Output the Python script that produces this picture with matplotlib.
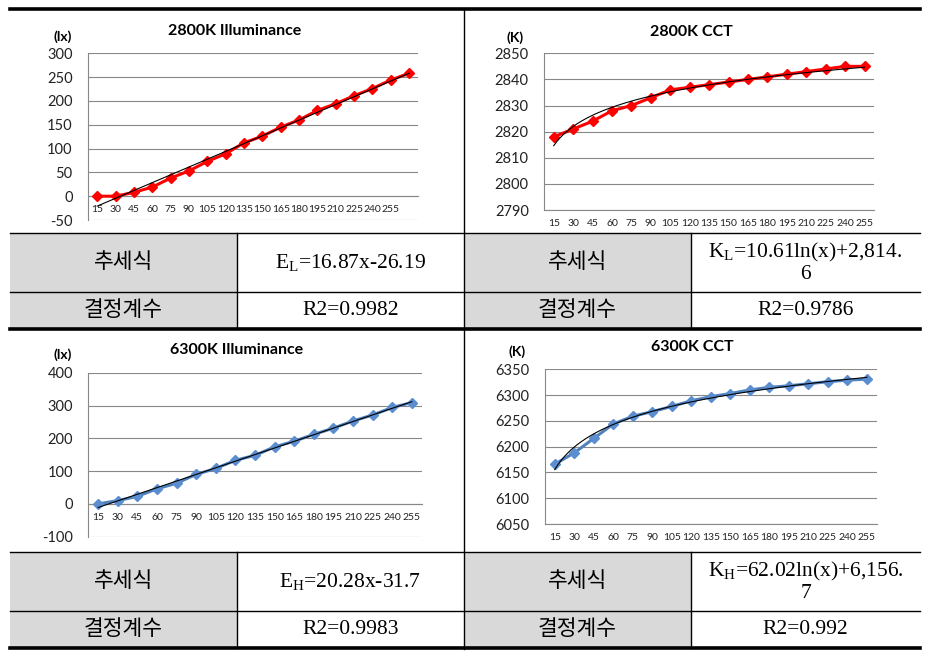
import matplotlib
matplotlib.use("Agg")
import matplotlib.pyplot as plt
import numpy as np
from matplotlib.lines import Line2D
from matplotlib.patches import Rectangle

plt.rcParams['font.family'] = ['Lato', 'DejaVu Sans']
plt.rcParams['mathtext.default'] = 'regular'
plt.rcParams['axes.unicode_minus'] = False

# data
x_labels = ['15', '30', '45', '60', '75', '90', '105', '120', '135', '150',
            '165', '180', '195', '210', '225', '240', '255']
lux_2800 = [0, 0, 8, 19, 38, 53, 73, 89, 112, 126, 145, 160, 180, 194, 211, 226, 244, 258]
cct_2800 = [2818, 2821, 2824, 2828, 2830, 2833, 2836, 2837, 2838, 2839,
            2840, 2841, 2842, 2843, 2844, 2845, 2845]
lux_6300 = [0, 10, 23, 46, 63, 90, 108, 133, 148, 174, 191, 212, 231, 253, 271, 294, 309]
cct_6300 = [6166, 6188, 6216, 6244, 6259, 6268, 6278, 6289, 6297, 6303,
            6310, 6315, 6318, 6322, 6326, 6329, 6331]

titles = ['2800K Illuminance', '2800K CCT', '6300K Illuminance', '6300K CCT']
units = ['(lx)', '(K)', '(lx)', '(K)']
row_names = ['추세식', '결정계수']
eq_top = ['E$_L$=16.87x-26.19', 'K$_L$=10.61ln(x)+2,814.\n6']
r2_top = ['R2=0.9982', 'R2=0.9786']
eq_bot = ['E$_H$=20.28x-31.7', 'K$_H$=62.02ln(x)+6,156.\n7']
r2_bot = ['R2=0.9983', 'R2=0.992']

W, H = 930, 662
fig = plt.figure(figsize=(W / 100, H / 100), dpi=100)


def fx(px):
    return px / W


def fy(py):
    return 1 - py / H


def add_ax(x0, y0, x1, y1):
    return fig.add_axes([x0 / W, 1 - y1 / H, (x1 - x0) / W, (y1 - y0) / H])


def line(x0, y0, x1, y1, lw=1.0):
    fig.add_artist(Line2D([fx(x0), fx(x1)], [fy(y0), fy(y1)], color='black', lw=lw))


def draw(ax, y, color, mcolor, ylo, yhi, step, log_fit=False, zero_axis=False):
    y = np.array(y, dtype=float)
    x = np.arange(1, len(y) + 1)
    ax.plot(x, y, color=color, lw=2.2, marker='D', ms=5, mfc=mcolor, mec=mcolor, zorder=3)
    # Excel-style trendline fitted to the plotted points
    xt = np.linspace(1, len(y), 200)
    if log_fit:
        a, b = np.polyfit(np.log(x), y, 1)
        yt = a * np.log(xt) + b
    else:
        a, b = np.polyfit(x, y, 1)
        yt = a * xt + b
    ax.plot(xt, yt, color='black', lw=0.8, zorder=4)
    ax.set_xlim(0.5, len(y) + 0.5)
    ax.set_ylim(ylo, yhi)
    ax.set_yticks(np.arange(ylo, yhi + step, step))
    labels = x_labels + [''] * (len(y) - len(x_labels))
    ax.set_xticks(x)
    ax.set_xticklabels(labels)
    ax.grid(axis='y', color='#888888', lw=0.8)
    ax.set_axisbelow(True)
    for s in ['top', 'right']:
        ax.spines[s].set_visible(False)
    for s in ['left', 'bottom']:
        ax.spines[s].set_color('#888888')
        ax.spines[s].set_linewidth(0.8)
    if zero_axis:
        ax.spines['bottom'].set_position(('data', 0))
    ax.tick_params(axis='y', length=0, pad=11, labelsize=10.5, labelcolor='#222222')
    ax.tick_params(axis='x', length=0, pad=6.5, labelsize=7.5, labelcolor='#222222')
    ax.patch.set_alpha(0)


ax1 = add_ax(88, 53.3, 418.3, 220)
draw(ax1, lux_2800, '#FF0000', '#FF0000', -50, 300, 50, zero_axis=True)
ax2 = add_ax(544, 53.3, 874.3, 210)
draw(ax2, cct_2800, '#FF0000', '#FF0000', 2790, 2850, 10, log_fit=True)
ax3 = add_ax(88.3, 372.7, 421.7, 536.7)
draw(ax3, lux_6300, '#4F81BD', '#5B8ED0', -100, 400, 100, zero_axis=True)
ax4 = add_ax(545, 369.3, 876.7, 524)
draw(ax4, cct_6300, '#4F81BD', '#5B8ED0', 6050, 6350, 50, log_fit=True)

# titles and units
title_pos = [(235, 30.7), (691.7, 32.3), (236.7, 350), (692.5, 346.7)]
unit_pos = [(62.5, 36.7), (515, 37.7), (62.5, 355), (516.7, 351.7)]
for t, (tx, ty) in zip(titles, title_pos):
    fig.text(fx(tx), fy(ty), t, ha='center', va='center', fontsize=11.5, fontweight='bold')
for u, (ux, uy) in zip(units, unit_pos):
    fig.text(fx(ux), fy(uy), u, ha='center', va='center', fontsize=10, fontweight='bold')

# table frame
line(10, 9, 920, 9, lw=2.6)
line(464, 9, 464, 649, lw=1.0)


def table_block(top, mid, bot, eqs, r2s):
    for gx0, gx1 in [(10, 237), (464, 691)]:
        fig.add_artist(Rectangle((fx(gx0), fy(bot)), fx(gx1 - gx0), (bot - top) / H,
                                 facecolor='#D9D9D9', edgecolor='none', zorder=0))
    line(10, top, 920, top, lw=1.0)
    line(10, mid, 920, mid, lw=1.0)
    line(10, bot, 920, bot, lw=2.6)
    for vx in [237, 691]:
        line(vx, top, vx, bot, lw=1.0)
    yc1 = (top + mid) / 2
    yc2 = (mid + bot) / 2
    for cx in [123.5, 577.5]:
        fig.text(fx(cx), fy(yc1), row_names[0], ha='center', va='center', fontsize=15.5,
                 family=['Noto Sans CJK KR', 'DejaVu Sans'])
        fig.text(fx(cx), fy(yc2), row_names[1], ha='center', va='center', fontsize=15.5,
                 family=['Noto Sans CJK KR', 'DejaVu Sans'])
    for cx, eq, r2 in zip([350.5, 805.5], eqs, r2s):
        fig.text(fx(cx), fy(yc1), eq, ha='center', va='center', fontsize=15.5,
                 family='Liberation Serif', linespacing=1.05)
        fig.text(fx(cx), fy(yc2), r2, ha='center', va='center', fontsize=15.5,
                 family='Liberation Serif')


table_block(233.3, 291.7, 328.5, eq_top, r2_top)
table_block(551.7, 610.7, 647.5, eq_bot, r2_bot)

fig.savefig('out.png', dpi=100)
